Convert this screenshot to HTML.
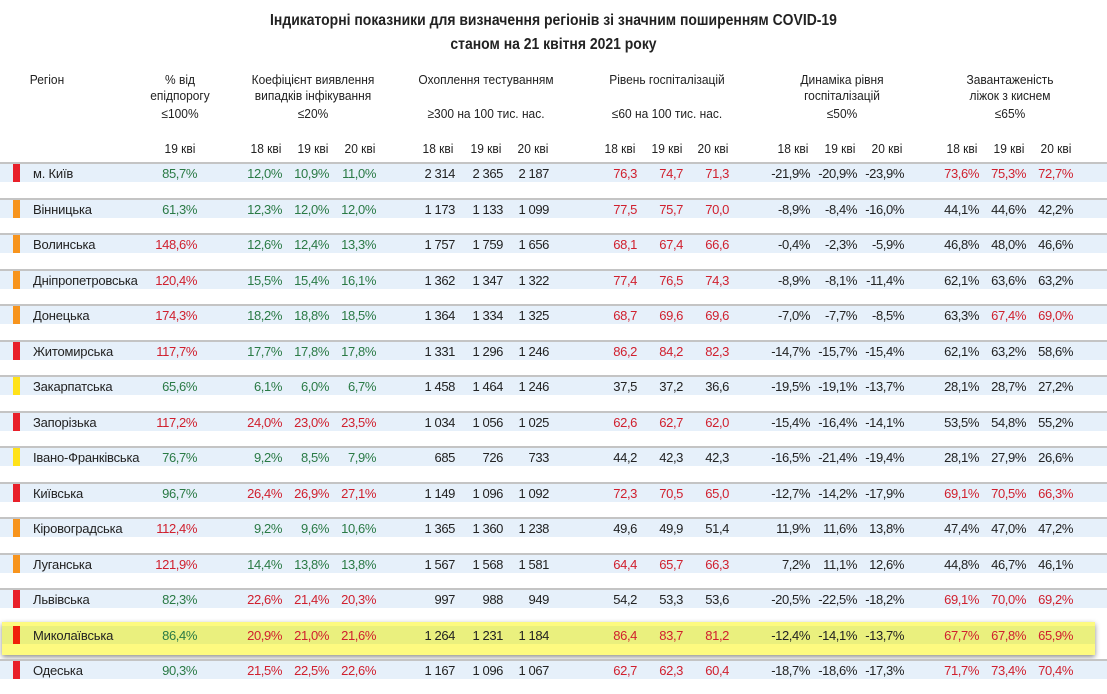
<!DOCTYPE html>
<html><head><meta charset="utf-8"><style>
body{margin:0;width:1107px;height:691px;background:#fff;font-family:"Liberation Sans",sans-serif;position:relative;overflow:hidden;color:#222}
.a{position:absolute}
.t{left:0;width:1107px;text-align:center;font-weight:bold;font-size:15.5px;color:#222;transform:scaleX(0.9)}
.h{position:absolute;text-align:center;font-size:13px;line-height:16px;color:#222;transform:translateX(-50%) scaleX(0.92);white-space:nowrap}
.r{position:absolute;left:0;width:1107px;height:35px}
.r .ln{position:absolute;left:0;top:0;width:1107px;height:2px;background:#c4c4c4}
.r .bd{position:absolute;left:0;top:2px;width:1107px;height:18px;background:#e6f0fa}
.r .mk{position:absolute;left:13px;top:2px;width:7px;height:18px}
.r .nm{position:absolute;left:33px;top:3px;font-size:13px;line-height:18px;letter-spacing:-0.2px}
.r span{position:absolute;top:3px;width:70px;text-align:right;font-size:13px;line-height:18px;letter-spacing:-0.4px}
.g{color:#2a7a45}.d{color:#d0202e}
.c1{left:127px}.c2{left:212px}.c3{left:259px}.c4{left:306px}.c5{left:385px}.c6{left:433px}.c7{left:479px}.c8{left:567px}.c9{left:613px}.c10{left:659px}.c11{left:740px}.c12{left:787px}.c13{left:834px}.c14{left:909px}.c15{left:956px}.c16{left:1003px}
.R{background:#e8202a}.O{background:#f7941d}.Y{background:#ffe21a}
</style></head><body>
<div class="a t" style="top:12px">Індикаторні показники для визначення регіонів зі значним поширенням COVID-19</div>
<div class="a t" style="top:36px">станом на 21 квітня 2021 року</div>
<div class="h" style="left:47px;top:72px">Регіон</div>
<div class="h" style="left:180px;top:72px">% від<br>епідпорогу</div>
<div class="h" style="left:180px;top:106px">≤100%</div>
<div class="h" style="left:313px;top:72px">Коефіцієнт виявлення<br>випадків інфікування</div>
<div class="h" style="left:313px;top:106px">≤20%</div>
<div class="h" style="left:486px;top:72px">Охоплення тестуванням</div>
<div class="h" style="left:486px;top:106px">≥300 на 100 тис. нас.</div>
<div class="h" style="left:667px;top:72px">Рівень госпіталізацій</div>
<div class="h" style="left:667px;top:106px">≤60 на 100 тис. нас.</div>
<div class="h" style="left:842px;top:72px">Динаміка рівня<br>госпіталізацій</div>
<div class="h" style="left:842px;top:106px">≤50%</div>
<div class="h" style="left:1010px;top:72px">Завантаженість<br>ліжок з киснем</div>
<div class="h" style="left:1010px;top:106px">≤65%</div>
<div class="h" style="left:180px;top:141px">19 кві</div>
<div class="h" style="left:266px;top:141px">18 кві</div><div class="h" style="left:313px;top:141px">19 кві</div><div class="h" style="left:360px;top:141px">20 кві</div>
<div class="h" style="left:438px;top:141px">18 кві</div><div class="h" style="left:486px;top:141px">19 кві</div><div class="h" style="left:533px;top:141px">20 кві</div>
<div class="h" style="left:620px;top:141px">18 кві</div><div class="h" style="left:667px;top:141px">19 кві</div><div class="h" style="left:713px;top:141px">20 кві</div>
<div class="h" style="left:793px;top:141px">18 кві</div><div class="h" style="left:840px;top:141px">19 кві</div><div class="h" style="left:887px;top:141px">20 кві</div>
<div class="h" style="left:962px;top:141px">18 кві</div><div class="h" style="left:1009px;top:141px">19 кві</div><div class="h" style="left:1056px;top:141px">20 кві</div>

<div class="r" style="top:162px"><div class="ln"></div><div class="bd"></div><div class="mk R"></div><div class="nm">м. Київ</div><span class="c1 g">85,7%</span><span class="c2 g">12,0%</span><span class="c3 g">10,9%</span><span class="c4 g">11,0%</span><span class="c5">2 314</span><span class="c6">2 365</span><span class="c7">2 187</span><span class="c8 d">76,3</span><span class="c9 d">74,7</span><span class="c10 d">71,3</span><span class="c11">-21,9%</span><span class="c12">-20,9%</span><span class="c13">-23,9%</span><span class="c14 d">73,6%</span><span class="c15 d">75,3%</span><span class="c16 d">72,7%</span></div>
<div class="r" style="top:197.5px"><div class="ln"></div><div class="bd"></div><div class="mk O"></div><div class="nm">Вінницька</div><span class="c1 g">61,3%</span><span class="c2 g">12,3%</span><span class="c3 g">12,0%</span><span class="c4 g">12,0%</span><span class="c5">1 173</span><span class="c6">1 133</span><span class="c7">1 099</span><span class="c8 d">77,5</span><span class="c9 d">75,7</span><span class="c10 d">70,0</span><span class="c11">-8,9%</span><span class="c12">-8,4%</span><span class="c13">-16,0%</span><span class="c14">44,1%</span><span class="c15">44,6%</span><span class="c16">42,2%</span></div>
<div class="r" style="top:233px"><div class="ln"></div><div class="bd"></div><div class="mk O"></div><div class="nm">Волинська</div><span class="c1 d">148,6%</span><span class="c2 g">12,6%</span><span class="c3 g">12,4%</span><span class="c4 g">13,3%</span><span class="c5">1 757</span><span class="c6">1 759</span><span class="c7">1 656</span><span class="c8 d">68,1</span><span class="c9 d">67,4</span><span class="c10 d">66,6</span><span class="c11">-0,4%</span><span class="c12">-2,3%</span><span class="c13">-5,9%</span><span class="c14">46,8%</span><span class="c15">48,0%</span><span class="c16">46,6%</span></div>
<div class="r" style="top:268.5px"><div class="ln"></div><div class="bd"></div><div class="mk O"></div><div class="nm">Дніпропетровська</div><span class="c1 d">120,4%</span><span class="c2 g">15,5%</span><span class="c3 g">15,4%</span><span class="c4 g">16,1%</span><span class="c5">1 362</span><span class="c6">1 347</span><span class="c7">1 322</span><span class="c8 d">77,4</span><span class="c9 d">76,5</span><span class="c10 d">74,3</span><span class="c11">-8,9%</span><span class="c12">-8,1%</span><span class="c13">-11,4%</span><span class="c14">62,1%</span><span class="c15">63,6%</span><span class="c16">63,2%</span></div>
<div class="r" style="top:304px"><div class="ln"></div><div class="bd"></div><div class="mk O"></div><div class="nm">Донецька</div><span class="c1 d">174,3%</span><span class="c2 g">18,2%</span><span class="c3 g">18,8%</span><span class="c4 g">18,5%</span><span class="c5">1 364</span><span class="c6">1 334</span><span class="c7">1 325</span><span class="c8 d">68,7</span><span class="c9 d">69,6</span><span class="c10 d">69,6</span><span class="c11">-7,0%</span><span class="c12">-7,7%</span><span class="c13">-8,5%</span><span class="c14">63,3%</span><span class="c15 d">67,4%</span><span class="c16 d">69,0%</span></div>
<div class="r" style="top:339.5px"><div class="ln"></div><div class="bd"></div><div class="mk R"></div><div class="nm">Житомирська</div><span class="c1 d">117,7%</span><span class="c2 g">17,7%</span><span class="c3 g">17,8%</span><span class="c4 g">17,8%</span><span class="c5">1 331</span><span class="c6">1 296</span><span class="c7">1 246</span><span class="c8 d">86,2</span><span class="c9 d">84,2</span><span class="c10 d">82,3</span><span class="c11">-14,7%</span><span class="c12">-15,7%</span><span class="c13">-15,4%</span><span class="c14">62,1%</span><span class="c15">63,2%</span><span class="c16">58,6%</span></div>
<div class="r" style="top:375px"><div class="ln"></div><div class="bd"></div><div class="mk Y"></div><div class="nm">Закарпатська</div><span class="c1 g">65,6%</span><span class="c2 g">6,1%</span><span class="c3 g">6,0%</span><span class="c4 g">6,7%</span><span class="c5">1 458</span><span class="c6">1 464</span><span class="c7">1 246</span><span class="c8">37,5</span><span class="c9">37,2</span><span class="c10">36,6</span><span class="c11">-19,5%</span><span class="c12">-19,1%</span><span class="c13">-13,7%</span><span class="c14">28,1%</span><span class="c15">28,7%</span><span class="c16">27,2%</span></div>
<div class="r" style="top:410.5px"><div class="ln"></div><div class="bd"></div><div class="mk R"></div><div class="nm">Запорізька</div><span class="c1 d">117,2%</span><span class="c2 d">24,0%</span><span class="c3 d">23,0%</span><span class="c4 d">23,5%</span><span class="c5">1 034</span><span class="c6">1 056</span><span class="c7">1 025</span><span class="c8 d">62,6</span><span class="c9 d">62,7</span><span class="c10 d">62,0</span><span class="c11">-15,4%</span><span class="c12">-16,4%</span><span class="c13">-14,1%</span><span class="c14">53,5%</span><span class="c15">54,8%</span><span class="c16">55,2%</span></div>
<div class="r" style="top:446px"><div class="ln"></div><div class="bd"></div><div class="mk Y"></div><div class="nm">Івано-Франківська</div><span class="c1 g">76,7%</span><span class="c2 g">9,2%</span><span class="c3 g">8,5%</span><span class="c4 g">7,9%</span><span class="c5">685</span><span class="c6">726</span><span class="c7">733</span><span class="c8">44,2</span><span class="c9">42,3</span><span class="c10">42,3</span><span class="c11">-16,5%</span><span class="c12">-21,4%</span><span class="c13">-19,4%</span><span class="c14">28,1%</span><span class="c15">27,9%</span><span class="c16">26,6%</span></div>
<div class="r" style="top:481.5px"><div class="ln"></div><div class="bd"></div><div class="mk R"></div><div class="nm">Київська</div><span class="c1 g">96,7%</span><span class="c2 d">26,4%</span><span class="c3 d">26,9%</span><span class="c4 d">27,1%</span><span class="c5">1 149</span><span class="c6">1 096</span><span class="c7">1 092</span><span class="c8 d">72,3</span><span class="c9 d">70,5</span><span class="c10 d">65,0</span><span class="c11">-12,7%</span><span class="c12">-14,2%</span><span class="c13">-17,9%</span><span class="c14 d">69,1%</span><span class="c15 d">70,5%</span><span class="c16 d">66,3%</span></div>
<div class="r" style="top:517px"><div class="ln"></div><div class="bd"></div><div class="mk O"></div><div class="nm">Кіровоградська</div><span class="c1 d">112,4%</span><span class="c2 g">9,2%</span><span class="c3 g">9,6%</span><span class="c4 g">10,6%</span><span class="c5">1 365</span><span class="c6">1 360</span><span class="c7">1 238</span><span class="c8">49,6</span><span class="c9">49,9</span><span class="c10">51,4</span><span class="c11">11,9%</span><span class="c12">11,6%</span><span class="c13">13,8%</span><span class="c14">47,4%</span><span class="c15">47,0%</span><span class="c16">47,2%</span></div>
<div class="r" style="top:552.5px"><div class="ln"></div><div class="bd"></div><div class="mk O"></div><div class="nm">Луганська</div><span class="c1 d">121,9%</span><span class="c2 g">14,4%</span><span class="c3 g">13,8%</span><span class="c4 g">13,8%</span><span class="c5">1 567</span><span class="c6">1 568</span><span class="c7">1 581</span><span class="c8 d">64,4</span><span class="c9 d">65,7</span><span class="c10 d">66,3</span><span class="c11">7,2%</span><span class="c12">11,1%</span><span class="c13">12,6%</span><span class="c14">44,8%</span><span class="c15">46,7%</span><span class="c16">46,1%</span></div>
<div class="r" style="top:588px"><div class="ln"></div><div class="bd"></div><div class="mk R"></div><div class="nm">Львівська</div><span class="c1 g">82,3%</span><span class="c2 d">22,6%</span><span class="c3 d">21,4%</span><span class="c4 d">20,3%</span><span class="c5">997</span><span class="c6">988</span><span class="c7">949</span><span class="c8">54,2</span><span class="c9">53,3</span><span class="c10">53,6</span><span class="c11">-20,5%</span><span class="c12">-22,5%</span><span class="c13">-18,2%</span><span class="c14 d">69,1%</span><span class="c15 d">70,0%</span><span class="c16 d">69,2%</span></div>
<div class="a" style="left:2px;top:622px;width:1093px;height:33px;background:#fdfa80;box-shadow:0 2px 5px rgba(0,0,0,.45)"></div>
<div class="r" style="top:623.5px"><div class="bd" style="background:#eaf07e;width:1093px;left:2px"></div><div class="mk" style="background:#f0200a"></div><div class="nm">Миколаївська</div><span class="c1 g">86,4%</span><span class="c2 d">20,9%</span><span class="c3 d">21,0%</span><span class="c4 d">21,6%</span><span class="c5">1 264</span><span class="c6">1 231</span><span class="c7">1 184</span><span class="c8 d">86,4</span><span class="c9 d">83,7</span><span class="c10 d">81,2</span><span class="c11">-12,4%</span><span class="c12">-14,1%</span><span class="c13">-13,7%</span><span class="c14 d">67,7%</span><span class="c15 d">67,8%</span><span class="c16 d">65,9%</span></div>
<div class="r" style="top:659px"><div class="ln"></div><div class="bd"></div><div class="mk R"></div><div class="nm">Одеська</div><span class="c1 g">90,3%</span><span class="c2 d">21,5%</span><span class="c3 d">22,5%</span><span class="c4 d">22,6%</span><span class="c5">1 167</span><span class="c6">1 096</span><span class="c7">1 067</span><span class="c8 d">62,7</span><span class="c9 d">62,3</span><span class="c10 d">60,4</span><span class="c11">-18,7%</span><span class="c12">-18,6%</span><span class="c13">-17,3%</span><span class="c14 d">71,7%</span><span class="c15 d">73,4%</span><span class="c16 d">70,4%</span></div>
</body></html>
